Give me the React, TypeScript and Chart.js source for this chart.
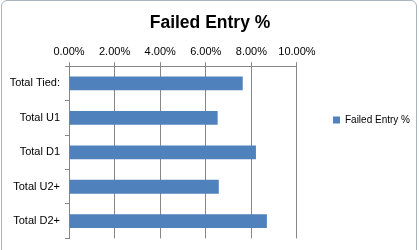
import React, { useEffect, useRef } from "react";
import { Chart, registerables } from "chart.js";

Chart.register(...registerables);

const categories = ["Total Tied:", "Total U1", "Total D1", "Total U2+", "Total D2+"];
const failedEntry = [0.0762, 0.0652, 0.082, 0.0657, 0.0868];
const seriesName = "Failed Entry %";
const chartTitle = "Failed Entry %";

const FONT = "'Liberation Sans', Arial, sans-serif";
const GRID = "#868686";

export default function App() {
  const ref = useRef<HTMLCanvasElement | null>(null);
  useEffect(() => {
    if (!ref.current) return;
    const chart = new Chart(ref.current, {
      type: "bar",
      data: {
        labels: categories,
        datasets: [
          {
            label: seriesName,
            data: failedEntry,
            backgroundColor: "#4f81bd",
            borderWidth: 0,
            barPercentage: 0.4,
            categoryPercentage: 1,
          },
        ],
      },
      options: {
        indexAxis: "y",
        animation: false,
        responsive: false,
        maintainAspectRatio: false,
        layout: { padding: { left: 0, right: -1, top: 0, bottom: 10 } },
        plugins: {
          title: {
            display: true,
            text: chartTitle,
            color: "#000",
            font: { family: FONT, size: 17.5, weight: "bold" },
            padding: { top: 13, bottom: 7 },
          },
          legend: {
            display: true,
            position: "right",
            maxWidth: 200,
            labels: {
              color: "#000",
              font: { family: FONT, size: 10 },
              boxWidth: 7,
              boxHeight: 7,
              padding: 36,
            },
          },
          tooltip: { enabled: false },
        },
        scales: {
          x: {
            position: "top",
            min: 0,
            max: 0.1,
            ticks: {
              stepSize: 0.02,
              color: "#000",
              font: { family: FONT, size: 11 },
              padding: 4,
              callback: (v: any) => (Number(v) * 100).toFixed(2) + "%",
            },
            grid: { color: GRID, tickLength: 4, drawTicks: true },
            border: { display: true, color: GRID },
          },
          y: {
            position: "left",
            ticks: {
              color: "#000",
              font: { family: FONT, size: 11 },
              padding: 5,
            },
            grid: {
              offset: true,
              drawOnChartArea: false,
              drawTicks: true,
              tickLength: 4,
              color: GRID,
            },
            border: { display: true, color: GRID },
            afterFit: (s: any) => {
              s.width = 69;
            },
          },
        },
      },
    });
    return () => chart.destroy();
  }, []);
  return (
    <div
      style={{
        position: "fixed",
        left: 0,
        top: 0,
        width: 419,
        height: 250,
        overflow: "hidden",
        background: "#fff",
      }}
    >
      <div
        style={{
          position: "absolute",
          left: 1,
          top: 0,
          width: 416,
          height: 270,
          border: "1px solid #a9b4bf",
          borderRadius: 6,
          boxSizing: "border-box",
        }}
      />
      <canvas ref={ref} width={419} height={250} style={{ position: "absolute", left: 0, top: 0 }} />
    </div>
  );
}
